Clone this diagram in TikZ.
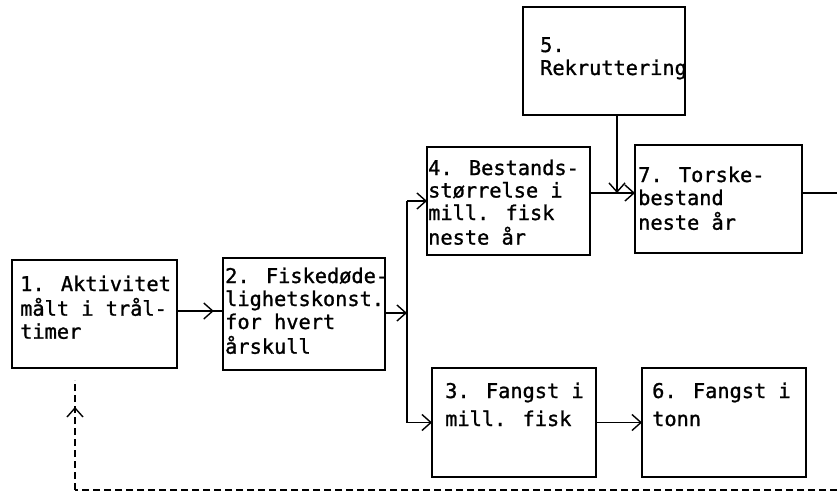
\documentclass[tikz,border=0pt]{standalone}
\usepackage{fontspec}
\newfontfamily\tymono[FakeBold=1.2]{DejaVu Sans Mono}
\usetikzlibrary{arrows.meta,decorations.markings}
\newcommand\mlines[1]{\begin{tabular}[t]{@{}l@{}}#1\end{tabular}}
\tikzset{
  box/.style={draw, line width=1.3pt, inner sep=0pt, outer sep=0pt},
  txt/.style={anchor=base west, inner sep=0pt, font=\fontsize{20.3}{23}\selectfont\tymono},
  txtwide/.style={txt, font=\fontsize{20.3}{28}\selectfont\tymono},
  barb/.tip={Straight Barb[length=9pt,width=16pt,line width=1.4pt]},
  arr/.style={line width=1.3pt, -barb},
  conn/.style={line width=1.3pt},
  midarr/.style={line width=1.3pt, postaction={decorate, decoration={markings, mark=at position #1 with {\arrow{barb}}}}},
  dsh/.style={line width=1.2pt, dash pattern=on 7pt off 4pt},
}
\begin{document}
\begin{tikzpicture}[x=1pt,y=-1pt]
\useasboundingbox (0,0) rectangle (837,492);
% boxes
\node[box, minimum width=165, minimum height=108] (b1) at (94.5,314) {};
\node[box, minimum width=162, minimum height=112] (b2) at (304,314) {};
\node[box, minimum width=163, minimum height=108] (b4) at (508.5,201) {};
\node[box, minimum width=162, minimum height=108] (b5) at (604,61) {};
\node[box, minimum width=167, minimum height=108] (b7) at (718.5,199) {};
\node[box, minimum width=164, minimum height=109] (b3) at (514,422.5) {};
\node[box, minimum width=164, minimum height=109] (b6) at (724,422.5) {};
% texts
\node[txt] (t1) at (20,291) {\mlines{1. Aktivitet\\målt i trål-\\timer}};
\node[txt] (t2) at (225,283) {\mlines{2. Fiskedøde-\\lighetskonst.\\for hvert\\årskull}};
\node[txt, font=\fontsize{20.3}{22.5}\selectfont\tymono] (t4) at (428,175) {\mlines{4. Bestands-\\størrelse i\\mill. fisk\\neste år}};
\node[txt] (t5) at (540,52) {\mlines{5.\\Rekruttering}};
\node[txt] (t7) at (638,182) {\mlines{7. Torske-\\bestand\\neste år}};
\node[txtwide] (t3) at (445,398) {\mlines{3. Fangst i\\mill. fisk}};
\node[txtwide] (t6) at (652,398) {\mlines{6. Fangst i\\tonn}};
% coordinates
\coordinate (bx) at (407,313);
\coordinate (j) at (617,193);
\coordinate (out) at (837,193);
\coordinate (fr) at (837,490);
\coordinate (fc) at (75,490);
\coordinate (fu) at (75,380);
% connectors
\draw[midarr=0.8] (b1.east |- 0,311) -- (b2.west |- 0,311);
\draw[arr] (b2.east |- bx) -- (bx);
\draw[conn] (b4.west -| bx) -- (b3.west -| bx);
\draw[arr] (b4.west -| bx) -- (b4.west);
\draw[arr] (b3.west -| bx) -- (b3.west);
\draw[arr] (b4.east |- j) -- (b7.west |- j);
\draw[arr] (b5.south -| j) -- (j);
\draw[conn] (b7.east |- j) -- (out);
\draw[arr] (b3.east) -- (b6.west);
\draw[dsh] (fr) -- (fc);
\draw[dsh, postaction={decorate, decoration={markings, mark=at position 0.755 with {\arrow{barb}}}}] (fc) -- (fu);
\end{tikzpicture}
\end{document}
